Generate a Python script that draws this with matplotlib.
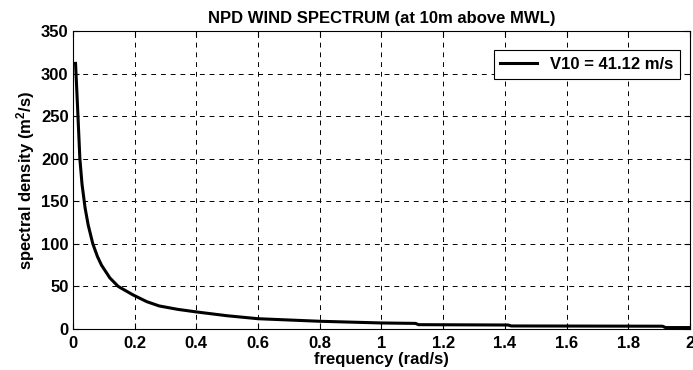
import matplotlib
matplotlib.use("Agg")
import matplotlib.pyplot as plt

plt.rcParams['font.family'] = ['Liberation Sans', 'DejaVu Sans']
plt.rcParams['font.weight'] = 'bold'
plt.rcParams['mathtext.fontset'] = 'custom'
plt.rcParams['mathtext.rm'] = 'Liberation Sans:bold'
plt.rcParams['mathtext.bf'] = 'Liberation Sans:bold'
plt.rcParams['mathtext.default'] = 'bf'

# values
freq = [0.009, 0.015, 0.023, 0.03, 0.04, 0.05, 0.065, 0.08, 0.093, 0.12, 0.147,
        0.195, 0.24, 0.28, 0.34, 0.4, 0.5, 0.6, 0.7, 0.8, 0.9, 1.0, 1.11, 1.12,
        1.41, 1.42, 1.91, 1.92, 2.0]
density = [312, 265, 200, 170, 142, 122, 100, 85, 75, 60, 50,
           40, 32, 27, 23, 20, 15.5, 12, 10.5, 9, 8, 7, 6.5, 5,
           4.6, 3.5, 3.2, 1.6, 1.6]
legend_label = 'V10 = 41.12 m/s'

fig = plt.figure(figsize=(6.93, 3.7), dpi=100)
ax = fig.add_axes([0.105, 0.111, 0.891, 0.805])

ax.plot(freq, density, color='black', linewidth=2.2, label=legend_label)

ax.set_xlim(0, 2)
ax.set_ylim(0, 350)
ax.set_xticks([0, 0.2, 0.4, 0.6, 0.8, 1, 1.2, 1.4, 1.6, 1.8, 2])
ax.set_xticklabels(['0', '0.2', '0.4', '0.6', '0.8', '1', '1.2', '1.4', '1.6', '1.8', '2'])
ax.set_yticks(range(0, 351, 50))
ax.tick_params(direction='in', top=True, right=True, labelsize=12, length=4)
ax.tick_params(axis='x', pad=5)
ax.tick_params(axis='y', pad=3)
ax.grid(True, color='black', linestyle=(0, (5, 5)), linewidth=0.7)

ax.set_title('NPD WIND SPECTRUM (at 10m above MWL)', fontsize=12, fontweight='bold', pad=6)
ax.set_xlabel('frequency (rad/s)', fontsize=12, fontweight='bold', labelpad=1)
ax.set_ylabel('spectral density (m$^{2}$/s)', fontsize=12, fontweight='bold', labelpad=3)

leg = ax.legend(loc='upper right', bbox_to_anchor=(0.984, 0.935), fancybox=False,
                framealpha=1, edgecolor='black', fontsize=12, handlelength=2.2,
                borderpad=0.4, borderaxespad=0)
leg.get_frame().set_linewidth(0.8)

fig.savefig('out.png', dpi=100)
